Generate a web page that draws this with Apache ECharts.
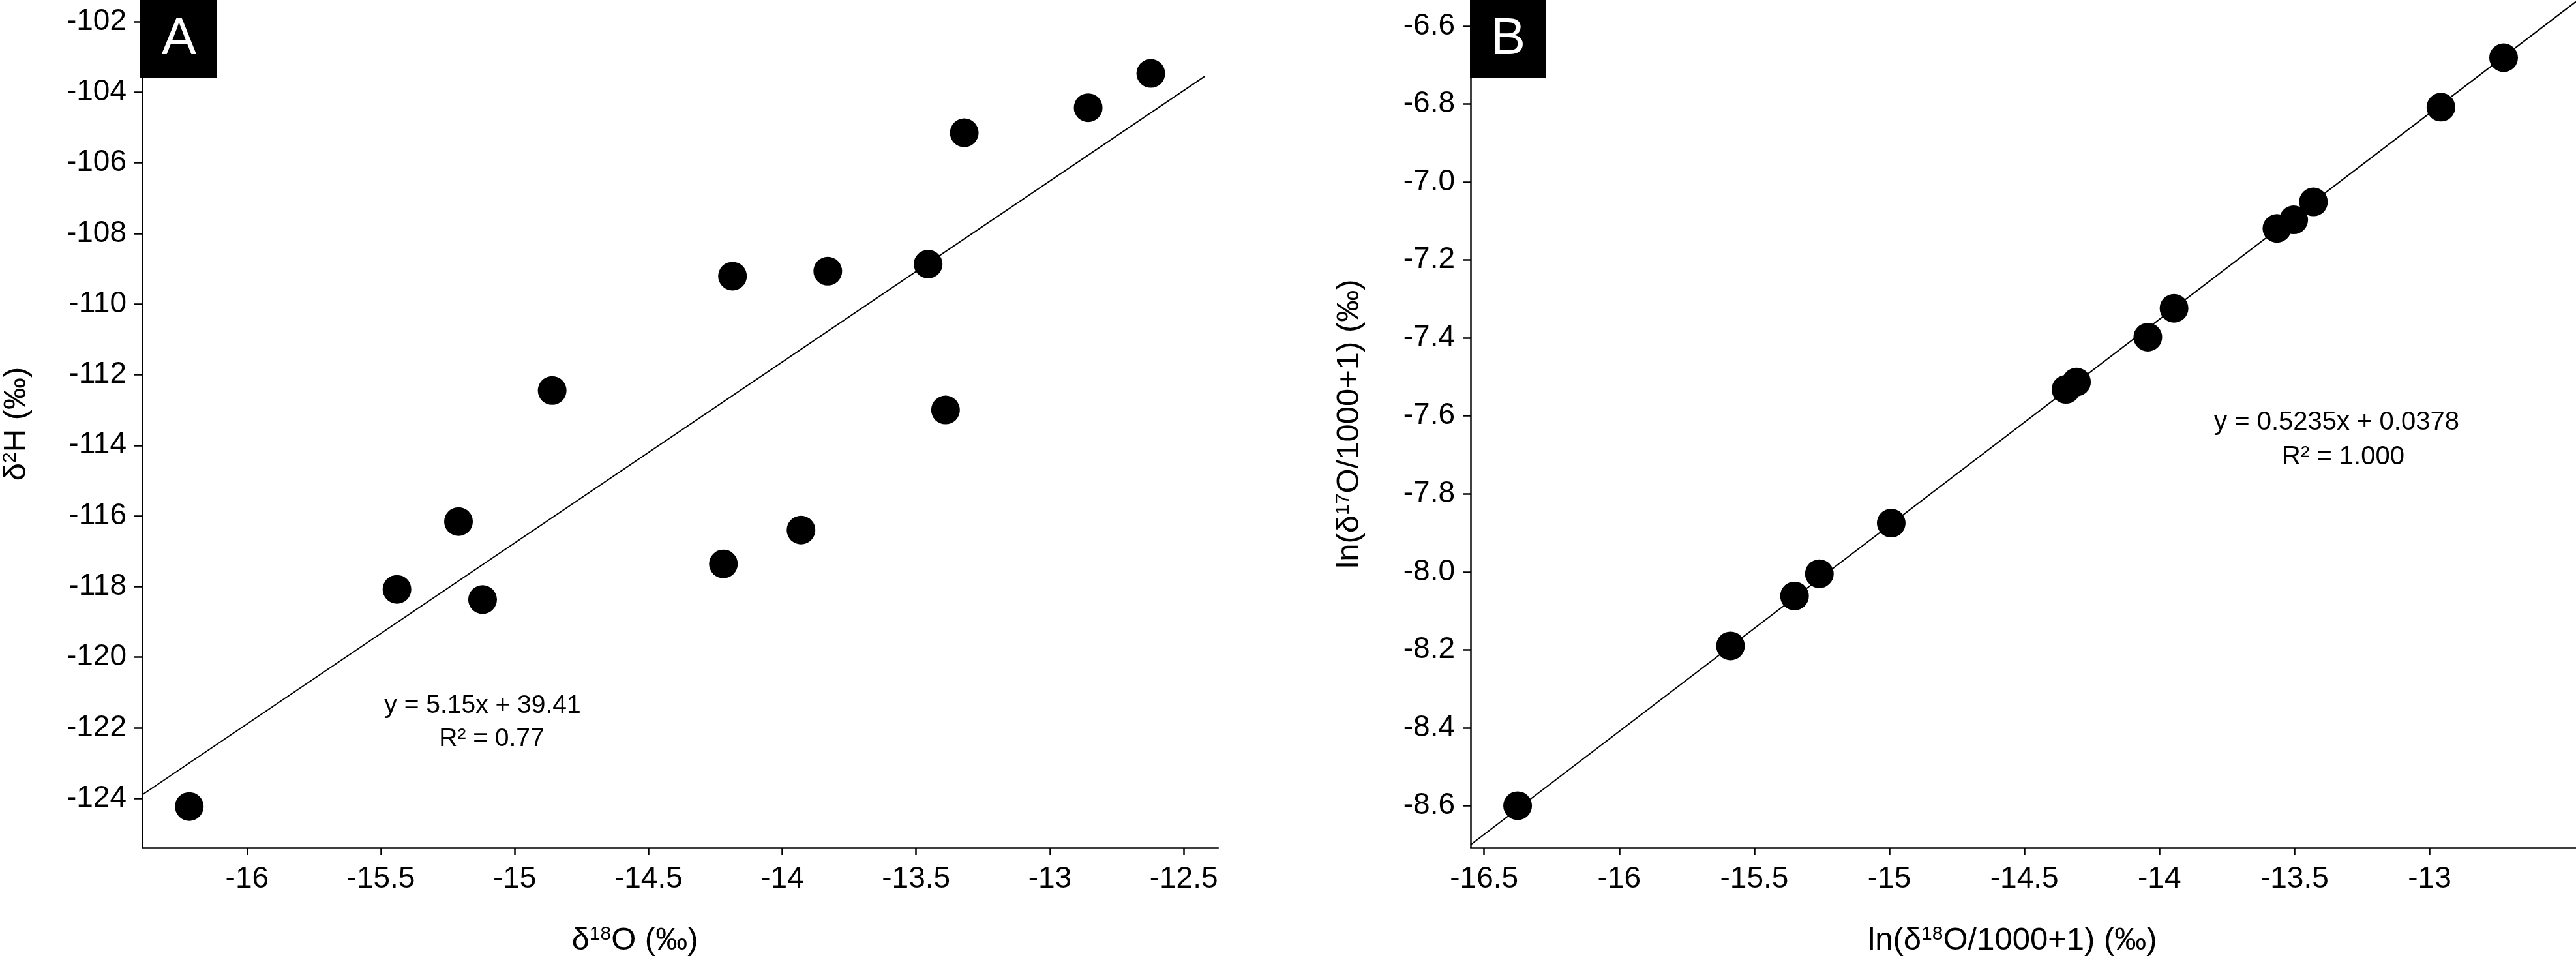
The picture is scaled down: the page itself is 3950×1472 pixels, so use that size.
<!DOCTYPE html>
<html>
<head>
<meta charset="utf-8">
<script src="https://cdn.jsdelivr.net/npm/echarts@6/dist/echarts.min.js"></script>
<style>
html,body{margin:0;padding:0;background:#fff;}
#chart{width:3950px;height:1472px;}
</style>
</head>
<body>
<div id="chart"></div>
<script>
// Panel A data: δ18O vs δ2H
const aX = [-16.216, -15.44, -15.21, -15.12, -14.86, -14.22, -14.186, -13.93, -13.83, -13.455, -13.39, -13.32, -12.857, -12.623];
const aY = [-124.23, -118.08, -116.16, -118.37, -112.45, -117.36, -109.21, -116.40, -109.07, -108.87, -113.0, -105.15, -104.44, -103.47];
const aFitX = [-16.392, -12.421];
const aFitY = [-123.90, -103.55];
const aXTicks = [-16, -15.5, -15, -14.5, -14, -13.5, -13, -12.5];
const aYTicks = [-124, -122, -120, -118, -116, -114, -112, -110, -108, -106, -104, -102];
const aEq = ['y = 5.15x + 39.41', 'R² = 0.77'];

// Panel B data: ln(δ18O/1000+1) vs ln(δ17O/1000+1)
const bX = [-16.376, -15.588, -15.351, -15.259, -14.993, -14.346, -14.307, -14.043, -13.946, -13.565, -13.503, -13.43, -12.958, -12.726];
const bY = [-8.600, -8.190, -8.062, -8.005, -7.875, -7.532, -7.513, -7.398, -7.324, -7.119, -7.097, -7.051, -6.808, -6.681];
const bFitX = [-16.55, -12.458];
const bFitY = [-8.700, -6.537];
const bXTicks = [-16.5, -16, -15.5, -15, -14.5, -14, -13.5, -13];
const bYTicks = [-8.6, -8.4, -8.2, -8.0, -7.8, -7.6, -7.4, -7.2, -7.0, -6.8, -6.6];
const bEq = ['y = 0.5235x + 0.0378', 'R² = 1.000'];

const FONT = 'Liberation Sans, Arial, sans-serif';
const pairs = (xs, ys) => xs.map((x, i) => [x, ys[i]]);

function makeXAxis(gridIndex, min, max, ticks, name, namePadRight) {
  return {
    type: 'value', gridIndex, min, max,
    name, nameLocation: 'middle', nameGap: 118,
    nameTextStyle: {fontSize: 49, fontFamily: FONT, color: '#000', padding: [0, namePadRight, 0, 0],
      rich: {s: {fontSize: 30, fontFamily: FONT, color: '#000', verticalAlign: 'top'}}},
    axisLine: {show: true, onZero: false, lineStyle: {color: '#000', width: 2.5}},
    axisTick: {show: true, length: 11, customValues: ticks, lineStyle: {color: '#000', width: 2.5}},
    axisLabel: {customValues: ticks, margin: 25, fontSize: 46, fontFamily: FONT, color: '#000'},
    splitLine: {show: false}
  };
}
function makeYAxis(gridIndex, min, max, ticks, name, fmt) {
  return {
    type: 'value', gridIndex, min, max,
    name, nameLocation: 'middle', nameGap: 168,
    nameTextStyle: {fontSize: 49, fontFamily: FONT, color: '#000',
      rich: {s: {fontSize: 30, fontFamily: FONT, color: '#000', verticalAlign: 'top'}}},
    axisLine: {show: true, onZero: false, lineStyle: {color: '#000', width: 2.5}},
    axisTick: {show: true, length: 12, customValues: ticks, lineStyle: {color: '#000', width: 2.5}},
    axisLabel: {customValues: ticks, margin: 24, fontSize: 46, fontFamily: FONT, color: '#000', formatter: fmt},
    splitLine: {show: false}
  };
}

const chart = echarts.init(document.getElementById('chart'), null, {renderer: 'canvas'});
const option = {
  backgroundColor: '#fff',
  animation: false,
  grid: [
    {left: 215, top: 0, width: 1653, height: 1302, containLabel: false},
    {left: 2255, top: 0, width: 1695, height: 1302, containLabel: false}
  ],
  xAxis: [
    makeXAxis(0, -16.392, -12.371, aXTicks, 'δ{s|18}O (‰)', 139),
    makeXAxis(1, -16.55, -12.458, bXTicks, 'ln(δ{s|18}O/1000+1) (‰)', 33)
  ],
  yAxis: [
    makeYAxis(0, -125.4, -101.39, aYTicks, 'δ{s|2}H (‰)', v => String(v)),
    Object.assign(makeYAxis(1, -8.708, -6.533, bYTicks, 'ln(δ{s|17}O/1000+1) (‰)', v => v.toFixed(1)), {nameGap: 161})
  ],
  series: [
    {type: 'line', xAxisIndex: 0, yAxisIndex: 0, data: pairs(aFitX, aFitY), showSymbol: false, symbol: 'none',
      lineStyle: {color: '#000', width: 2}, z: 1, silent: true},
    {type: 'scatter', xAxisIndex: 0, yAxisIndex: 0, data: pairs(aX, aY), symbol: 'circle', symbolSize: 44,
      itemStyle: {color: '#000', opacity: 1}, z: 2},
    {type: 'line', xAxisIndex: 1, yAxisIndex: 1, data: pairs(bFitX, bFitY), showSymbol: false, symbol: 'none',
      lineStyle: {color: '#000', width: 2}, z: 1, silent: true},
    {type: 'scatter', xAxisIndex: 1, yAxisIndex: 1, data: pairs(bX, bY), symbol: 'circle', symbolSize: 44,
      itemStyle: {color: '#000', opacity: 1}, z: 2}
  ],
  graphic: [
    {type: 'rect', shape: {x: 215, y: 0, width: 118, height: 119}, style: {fill: '#000'}, z: 10},
    {type: 'text', x: 274.5, y: 61, style: {text: 'A', fill: '#fff', font: '80px ' + FONT, textAlign: 'center', textVerticalAlign: 'middle'}, z: 11},
    {type: 'rect', shape: {x: 2254, y: 0, width: 117, height: 119}, style: {fill: '#000'}, z: 10},
    {type: 'text', x: 2312.5, y: 61, style: {text: 'B', fill: '#fff', font: '80px ' + FONT, textAlign: 'center', textVerticalAlign: 'middle'}, z: 11},
    {type: 'text', x: 740, y: 1082, style: {text: aEq[0], fill: '#000', font: '39px ' + FONT, textAlign: 'center', textVerticalAlign: 'middle'}, z: 11},
    {type: 'text', x: 754, y: 1133, style: {text: aEq[1], fill: '#000', font: '39px ' + FONT, textAlign: 'center', textVerticalAlign: 'middle'}, z: 11},
    {type: 'text', x: 3583, y: 648, style: {text: bEq[0], fill: '#000', font: '40px ' + FONT, textAlign: 'center', textVerticalAlign: 'middle'}, z: 11},
    {type: 'text', x: 3593, y: 701, style: {text: bEq[1], fill: '#000', font: '40px ' + FONT, textAlign: 'center', textVerticalAlign: 'middle'}, z: 11}
  ]
};
chart.setOption(option);
</script>
</body>
</html>
